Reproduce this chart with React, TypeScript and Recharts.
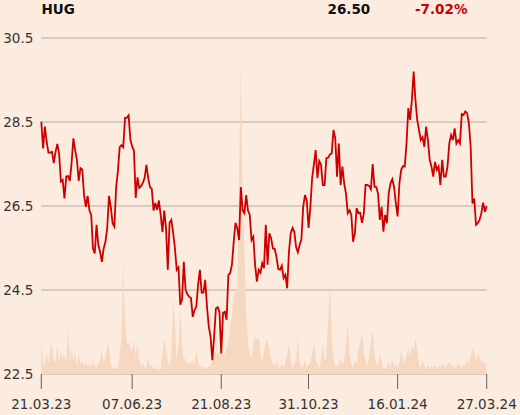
import React from 'react';
import { ComposedChart, Line, Area, XAxis, YAxis, CartesianGrid } from 'recharts';

const symbol = 'HUG';
const lastPrice = '26.50';
const changePct = '-7.02%';

const tickIndex = [0, 51, 101, 150, 200, 250];
const tickLabels = ['21.03.23', '07.06.23', '21.08.23', '31.10.23', '16.01.24', '27.03.24'];
const priceTicks = [22.5, 24.5, 26.5, 28.5, 30.5];

const prices = [
  28.51, 27.87, 28.39, 28.03, 27.77, 27.77, 27.79, 27.52, 27.79, 27.98,
  27.75, 27.08, 27.12, 26.68, 27.20, 27.21, 27.10, 27.52, 28.11, 27.83,
  27.60, 27.10, 27.40, 27.37, 26.76, 26.48, 26.74, 26.40, 26.29, 25.49,
  25.37, 26.05, 25.57, 25.41, 25.17, 25.49, 25.65, 25.97, 26.74, 26.48,
  26.09, 26.01, 26.93, 27.33, 27.90, 27.95, 27.90, 28.60, 28.60, 28.66,
  28.08, 27.92, 27.82, 26.69, 27.18, 26.93, 26.97, 27.05, 27.17, 27.48,
  27.17, 26.95, 26.91, 26.39, 26.57, 26.41, 26.63, 26.29, 25.88, 26.39,
  25.98, 24.98, 26.10, 26.17, 25.86, 25.50, 24.98, 25.04, 24.15, 24.27,
  25.17, 24.50, 24.40, 24.34, 24.31, 23.86, 24.02, 24.10, 24.62, 24.98,
  24.44, 24.44, 24.74, 24.10, 23.63, 23.39, 22.83, 23.39, 24.06, 24.09,
  23.98, 22.99, 23.95, 23.98, 23.79, 24.86, 24.90, 25.10, 25.65, 26.10,
  25.97, 25.69, 26.95, 26.40, 26.33, 26.76, 26.39, 26.29, 25.69, 25.77,
  25.10, 24.70, 24.98, 24.91, 25.14, 25.02, 26.05, 25.10, 25.85, 25.73,
  25.49, 25.48, 25.29, 25.00, 24.98, 25.08, 24.78, 24.86, 24.54, 25.41,
  25.85, 25.98, 25.89, 25.53, 25.40, 25.57, 25.71, 26.48, 26.76, 26.64,
  25.98, 26.45, 27.16, 27.49, 27.83, 27.16, 27.57, 27.48, 27.00, 27.00,
  27.64, 27.65, 27.73, 27.75, 28.31, 28.11, 27.20, 27.99, 27.00, 27.44,
  27.04, 26.80, 26.33, 26.40, 26.29, 25.65, 25.85, 26.45, 26.33, 26.34,
  26.10, 26.31, 27.00, 27.00, 26.98, 26.90, 27.50, 26.96, 26.95, 26.80,
  26.17, 26.48, 25.89, 26.29, 26.09, 26.80, 27.04, 27.14, 26.96, 26.56,
  26.25, 27.04, 27.36, 27.45, 27.44, 27.99, 28.83, 28.55, 29.02, 29.70,
  29.02, 28.55, 28.31, 28.07, 28.14, 27.91, 28.39, 28.07, 27.60, 27.44,
  27.20, 27.55, 27.36, 27.44, 27.00, 27.60, 27.20, 27.20, 27.44, 27.99,
  28.19, 28.07, 28.35, 27.99, 28.07, 27.99, 28.69, 28.67, 28.75, 28.71,
  28.47, 27.91, 26.56, 26.68, 26.05, 26.09, 26.17, 26.33, 26.58, 26.36,
  26.50,
];

const volumes = [
  32, 12, 9, 22, 10, 26, 30, 11, 14, 28,
  10, 22, 16, 18, 12, 44, 12, 25, 14, 22,
  8, 20, 10, 13, 8, 12, 8, 10, 6, 14,
  8, 6, 10, 14, 24, 10, 17, 30, 26, 8,
  6, 5, 7, 5, 20, 34, 112, 50, 30, 32,
  26, 22, 32, 17, 30, 14, 8, 11, 6, 8,
  16, 7, 9, 6, 5, 7, 4, 6, 20, 34,
  26, 12, 8, 20, 72, 50, 12, 28, 66, 28,
  14, 16, 10, 12, 10, 14, 8, 24, 12, 8,
  6, 8, 6, 5, 8, 8, 16, 24, 20, 20,
  24, 20, 20, 20, 24, 34, 47, 60, 77, 84,
  80, 200, 308, 170, 124, 61, 30, 21, 14, 31,
  37, 34, 37, 20, 14, 22, 32, 34, 24, 14,
  10, 8, 12, 8, 6, 10, 6, 12, 20, 30,
  14, 6, 10, 14, 37, 12, 6, 8, 14, 6,
  10, 12, 20, 30, 14, 10, 6, 14, 30, 14,
  16, 57, 87, 40, 14, 8, 8, 10, 16, 10,
  14, 30, 51, 20, 10, 6, 14, 10, 24, 32,
  41, 22, 12, 8, 16, 30, 44, 20, 10, 8,
  20, 12, 6, 5, 8, 12, 6, 14, 8, 10,
  6, 12, 24, 16, 10, 20, 26, 18, 28, 22,
  36, 24, 10, 6, 14, 8, 6, 10, 5, 8,
  6, 10, 5, 8, 6, 10, 8, 6, 10, 12,
  8, 10, 6, 8, 12, 8, 6, 10, 8, 14,
  10, 16, 26, 22, 14, 20, 18, 10, 14, 8,
  12,
];

const data = prices.map((p, i) => ({ i, price: p, volume: volumes[i] }));

const FONT = 'DejaVu Sans';
const BG = '#fbecdf';

const headStyle: React.CSSProperties = {
  position: 'absolute',
  top: 2.6,
  fontFamily: FONT,
  fontWeight: 'bold',
  fontSize: 13.5,
  lineHeight: '13.5px',
  whiteSpace: 'nowrap',
};

export default function App() {
  return (
    <div style={{ position: 'absolute', left: 0, top: 0, width: 520, height: 415, background: BG, overflow: 'hidden' }}>
      <div style={{ ...headStyle, left: 41.5, color: '#111' }}>{symbol}</div>
      <div style={{ ...headStyle, left: 327.5, color: '#111' }}>{lastPrice}</div>
      <div style={{ ...headStyle, left: 415, color: '#cc0000' }}>{changePct}</div>
      <ComposedChart
        width={520}
        height={415}
        data={data}
        margin={{ top: 38, right: 33.3, bottom: 11, left: 0 }}
        style={{ position: 'absolute', left: 0, top: 0 }}
      >
        <CartesianGrid horizontal vertical={false} stroke="#b3aca6" strokeWidth={1} yAxisId="p" />
        <XAxis
          dataKey="i"
          type="number"
          domain={[0, 250]}
          ticks={tickIndex}
          tickFormatter={(v: number) => tickLabels[tickIndex.indexOf(v)] ?? ''}
          axisLine={false}
          tickLine={{ stroke: '#66605c' }}
          tickSize={15}
          tickMargin={10}
          height={30}
          interval={0}
          tick={{ fontFamily: FONT, fontSize: 13.5, fill: '#333' }}
        />
        <YAxis
          yAxisId="p"
          domain={[22.5, 30.5]}
          ticks={priceTicks}
          tickFormatter={(v: number) => v.toFixed(1)}
          axisLine={false}
          tickLine={false}
          tickSize={6}
          tickMargin={2}
          width={41.3}
          interval={0}
          tick={{ fontFamily: FONT, fontSize: 13.5, fill: '#333' }}
        />
        <YAxis yAxisId="v" orientation="right" domain={[0, 336]} hide />
        <Area
          yAxisId="v"
          dataKey="volume"
          type="linear"
          stroke="none"
          fill="#f6d7c0"
          fillOpacity={1}
          isAnimationActive={false}
        />
        <Line
          yAxisId="p"
          dataKey="price"
          type="linear"
          stroke="#cc0000"
          strokeWidth={1.8}
          dot={false}
          activeDot={false}
          isAnimationActive={false}
        />
      </ComposedChart>
    </div>
  );
}
